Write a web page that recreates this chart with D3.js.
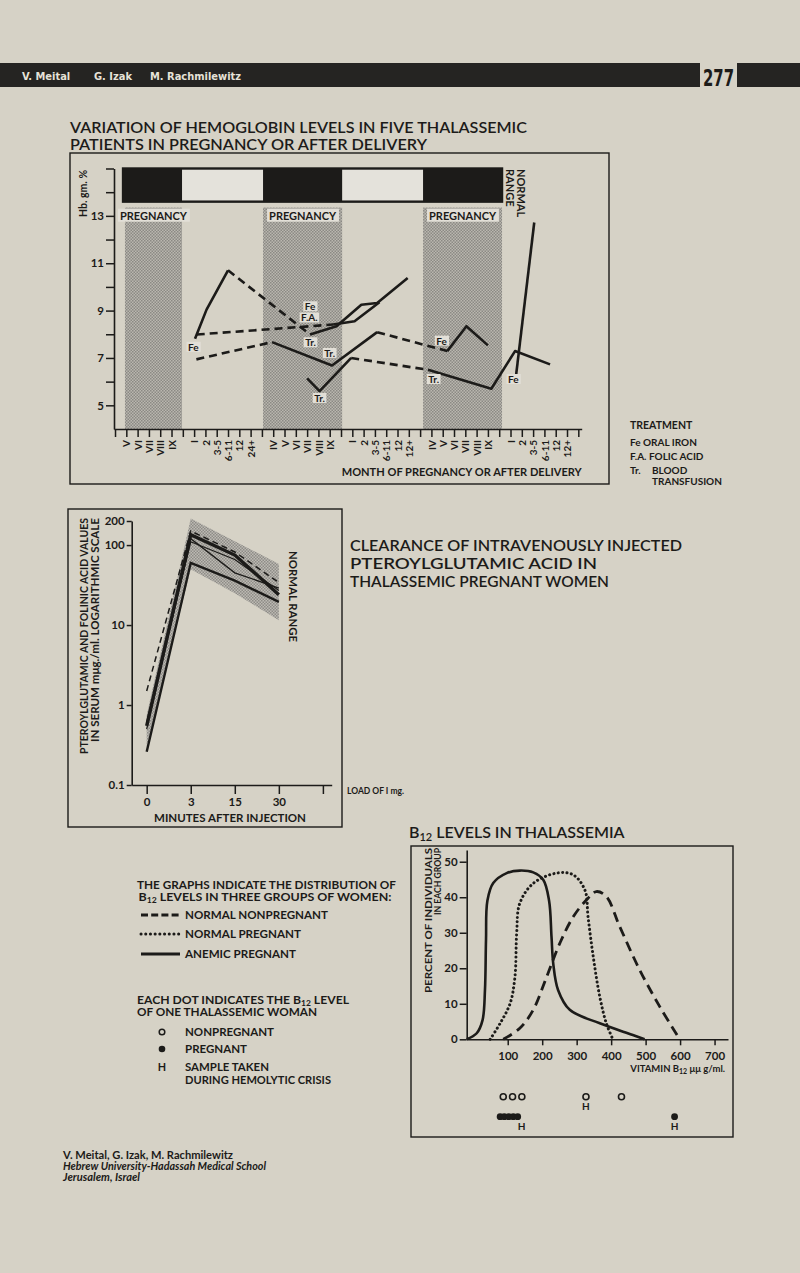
<!DOCTYPE html>
<html><head><meta charset="utf-8">
<script src="https://cdn.jsdelivr.net/npm/d3@7/dist/d3.min.js"></script>
<style>
html,body{margin:0;padding:0;background:#d6d2c6;}
svg{display:block;}
text{font-family:Lato,"Open Sans","DejaVu Sans",sans-serif;fill:#1c1b19;}
</style></head><body>
<svg id="page" width="800" height="1273"></svg>
<script>
// ================= DATA =================
// --- Chart 1: haemoglobin in five thalassemic patients
const monthTickLabels = ["", "V","VI","VII","VIII","IX", "", "I","2","3-5","6-11","12","24+", "",
  "IV","V","VI","VII","VIII","IX", "", "I","2","3-5","6-11","12","12+", "",
  "IV","V","VI","VII","VIII","IX", "", "I","2","3-5","6-11","12","12+", ""];
const hbValueTicks = [5,6,7,8,9,10,11,12,13,14,15];
const hbLabelTicks = [5,7,9,11,13];
const pregnancySpans = [[0.88,5.93],[13.1,20.1],[27.26,34.25]];   // month-slot units
const normalHbRange = [13.6,15];
const patientA = [
  {dashed:false, pts:[[7.08,7.81],[8.1,9.04],[10.0,10.7]]},
  {dashed:true,  pts:[[10.0,10.7],[17.26,7.99]]},
  {dashed:false, pts:[[17.26,7.99],[19.6,8.34],[21.8,9.25],[23.2,9.32],[25.9,10.38]]}
];
const patientB = [
  {dashed:true,  pts:[[7.23,7.99],[19.3,8.41]]},
  {dashed:false, pts:[[19.3,8.41],[21.2,8.55],[23.4,9.35]]}
];
const patientC = [
  {dashed:true,  pts:[[7.2,6.94],[13.9,7.67]]},
  {dashed:false, pts:[[13.9,7.67],[19.2,6.68],[23.2,8.09]]},
  {dashed:true,  pts:[[23.2,8.09],[29.4,7.29]]},
  {dashed:false, pts:[[29.4,7.29],[31.1,8.34],[33.0,7.53]]}
];
const patientD = [
  {dashed:false, pts:[[17.0,6.14],[18.1,5.6],[20.9,7.0]]},
  {dashed:true,  pts:[[20.9,7.0],[27.7,6.5]]},
  {dashed:false, pts:[[27.7,6.5],[33.3,5.7],[35.4,7.29],[38.5,6.73]]}
];
const patientE = [
  {dashed:false, pts:[[35.5,6.3],[37.1,12.72]]}
];
const treatmentMarks = [
  {s:6.93, hb:7.45, t:"Fe"}, {s:17.26, hb:9.16, t:"Fe"}, {s:17.2, hb:8.69, t:"F.A."},
  {s:17.3, hb:7.64, t:"Tr."}, {s:19.0, hb:7.19, t:"Tr."}, {s:18.1, hb:5.29, t:"Tr."},
  {s:28.9, hb:7.71, t:"Fe"}, {s:28.2, hb:6.09, t:"Tr."}, {s:35.25, hb:6.09, t:"Fe"}
];
const treatmentLegend = [["Fe","ORAL IRON"],["F.A.","FOLIC ACID"],["Tr.","BLOOD","TRANSFUSION"]];

// --- Chart 2: clearance of pteroylglutamic acid (log scale)
const minuteCategories = ["0","3","15","30",""];
const logTicks = [0.1,1,10,100,200];
const clearanceSeries = [
  {kind:"thick",  values:[0.55,135,75,24]},
  {kind:"medium", values:[0.26,60,36,19.5]},
  {kind:"dashed", values:[1.5,150,82,34]},
  {kind:"thin",   values:[0.5,120,45,29]},
  {kind:"thin",   values:[0.6,110,66,27]}
];
const normalBandLow  = [0.3,50,25,11.5];
const normalBandHigh = [0.75,215,112,58];

// --- Chart 3: B12 distributions
const b12Ticks = [100,200,300,400,500,600,700];
const pctTicks = [0,10,20,30,40,50];
const normalNonpregnant = [[87,0],[135,3.1],[174,8.3],[213,17.6],[251,27],[290,34.5],[328,39.2],[357,41.6],[386,40.2],[425,31.7],[483,19.5],[541,9.2],[599,0]];
const normalPregnant = [[49,0],[78,4.5],[107,10.1],[121,17.6],[126,29.9],[135,38.3],[174,43.9],[242,46.8],[290,46.3],[324,42],[333,34.5],[348,23.3],[367,12],[386,4.5],[405,0]];
const anemicPregnant = [[-19,0],[10,1.7],[27,5.4],[34,13.9],[37,28],[41,39],[58,44],[97,46.8],[135,47.5],[174,47],[203,44.9],[220,39],[227,28.9],[232,21.4],[246,13.9],[280,8.3],[367,4.5],[463,1.2],[497,0]];
const dotsNonpregnant = [87,114,141,327,430];
const dotsPregnant = [78,90,103,116,129,584];
const hemolyticNonpregnant = [327];
const hemolyticPregnant = [140,584];

// ================= DRAWING =================
const ink = "#1c1b19", paper = "#d6d2c6", light = "#e2dfd7";
const svg = d3.select("#page");
svg.append("rect").attr("width",800).attr("height",1273).attr("fill",paper);
const defs = svg.append("defs");
function stipple(id, base, dot){
  const p = defs.append("pattern").attr("id",id).attr("width",3).attr("height",3).attr("patternUnits","userSpaceOnUse");
  p.append("rect").attr("width",3).attr("height",3).attr("fill",base);
  p.append("rect").attr("width",1.5).attr("height",1.5).attr("fill",dot);
  p.append("rect").attr("x",1.5).attr("y",1.5).attr("width",1.5).attr("height",1.5).attr("fill",dot);
}
stipple("stipA","#bab7af","#8b8984");
stipple("stipB","#bdbab3","#8e8c87");

function label(g, x, y, s, o={}){
  const t = g.append("text").attr("x",x).attr("y",y).text(s)
    .attr("font-size", o.size||10).attr("font-weight", o.weight||700);
  if (o.anchor) t.attr("text-anchor", o.anchor);
  if (o.len) t.attr("textLength", o.len).attr("lengthAdjust","spacingAndGlyphs");
  if (o.italic) t.attr("font-style","italic");
  if (o.fill) t.style("fill", o.fill);
  if (o.family) t.style("font-family", o.family);
  if (o.transform) t.attr("transform", o.transform);
  return t;
}
function styleAxis(sel, fs){
  sel.attr("font-family",null);
  sel.select(".domain").attr("stroke",ink).attr("stroke-width",1.6);
  sel.selectAll(".tick line").attr("stroke",ink).attr("stroke-width",1.5);
  sel.selectAll(".tick text").style("fill",ink).attr("font-size",fs).attr("font-weight",700);
}

// ---- running header
const condensed = "'Liberation Sans Narrow','DejaVu Sans Condensed',sans-serif";
svg.append("rect").attr("x",0).attr("y",63).attr("width",700).attr("height",24).attr("fill","#252422");
svg.append("rect").attr("x",737).attr("y",63).attr("width",63).attr("height",24).attr("fill","#252422");
label(svg, 22, 80, "V. Meital", {size:11, fill:"#e6e2d8", family:condensed});
label(svg, 94, 80, "G. Izak", {size:11, fill:"#e6e2d8", family:condensed});
label(svg, 150, 80, "M. Rachmilewitz", {size:11, fill:"#e6e2d8", family:condensed});
label(svg, 703, 86, "277", {size:23, family:condensed, len:31});

// ---- Chart 1
const g1 = svg.append("g");
label(g1, 70, 133, "VARIATION OF HEMOGLOBIN LEVELS IN FIVE THALASSEMIC", {size:15, weight:600, len:457});
label(g1, 70, 150, "PATIENTS IN PREGNANCY OR AFTER DELIVERY", {size:15, weight:600, len:357});
g1.append("rect").attr("x",70).attr("y",153).attr("width",539).attr("height",331)
  .attr("fill","none").attr("stroke",ink).attr("stroke-width",1.4);

const xHb = d3.scaleLinear().domain([-0.09, 41.3]).range([114, 581.7]);
const yHb = d3.scaleLinear().domain([4, 15]).range([429, 168.5]);

g1.selectAll("rect.preg").data(pregnancySpans).join("rect").attr("class","preg")
  .attr("x",d=>xHb(d[0])).attr("width",d=>xHb(d[1])-xHb(d[0]))
  .attr("y",yHb(13.35)).attr("height",yHb(4)-yHb(13.35)).attr("fill","url(#stipA)");

const nrx0 = xHb(pregnancySpans[0][0]-0.17), nrx1 = xHb(pregnancySpans[2][1]);
g1.append("rect").attr("x",nrx0).attr("y",yHb(normalHbRange[1])).attr("width",nrx1-nrx0)
  .attr("height",yHb(normalHbRange[0])-yHb(normalHbRange[1])).attr("fill","#e4e2db")
  .attr("stroke",ink).attr("stroke-width",2.4);
g1.selectAll("rect.nrb").data(pregnancySpans).join("rect").attr("class","nrb")
  .attr("x",(d,i)=>xHb(i===0?d[0]-0.17:d[0])).attr("width",(d,i)=>xHb(d[1])-xHb(i===0?d[0]-0.17:d[0]))
  .attr("y",yHb(normalHbRange[1])).attr("height",yHb(normalHbRange[0])-yHb(normalHbRange[1])).attr("fill",ink);

pregnancySpans.forEach(d=>{
  const cx = xHb((d[0]+d[1])/2);
  const t = label(g1, cx, yHb(13.0), "PREGNANCY", {size:11, anchor:"middle"}).attr("dy","0.35em");
  const bb = t.node().getBBox();
  g1.insert("rect", ()=>t.node()).attr("x",bb.x-2).attr("y",bb.y).attr("width",bb.width+4).attr("height",bb.height).attr("fill",light);
});
label(g1, 0, 0, "NORMAL", {size:11, transform:`translate(517,169) rotate(90)`});
label(g1, 0, 0, "RANGE", {size:11, transform:`translate(505.5,169) rotate(90)`});

const yAx1 = g1.append("g").attr("transform",`translate(${xHb(-0.09)},0)`)
  .call(d3.axisLeft(yHb).tickValues(hbValueTicks).tickSize(8).tickSizeOuter(0).tickPadding(2)
    .tickFormat(d=>hbLabelTicks.includes(d)?d:""));
styleAxis(yAx1, 11.5);
const xAx1 = g1.append("g").attr("transform",`translate(0,${yHb(4)})`)
  .call(d3.axisBottom(xHb).tickValues(d3.range(monthTickLabels.length)).tickSize(8).tickSizeOuter(0)
    .tickFormat(i=>monthTickLabels[i]));
styleAxis(xAx1, 10);
xAx1.selectAll(".tick text").attr("y",0).attr("x",-11).attr("dy","0.36em")
  .attr("text-anchor","end").attr("transform","rotate(-90)");
label(g1, 0, 0, "Hb. gm. %", {size:10.5, anchor:"end", transform:"translate(87,170) rotate(-90)"});
label(g1, 581.7, 475.5, "MONTH OF PREGNANCY OR AFTER DELIVERY", {size:10.5, anchor:"end", len:240});

const hbLine = d3.line().x(d=>xHb(d[0])).y(d=>yHb(d[1]));
const segs = [patientA, patientB, patientC, patientD, patientE].flat();
g1.selectAll("path.pt").data(segs).join("path").attr("class","pt")
  .attr("d",d=>hbLine(d.pts)).attr("fill","none").attr("stroke",ink)
  .attr("stroke-width",2.6).attr("stroke-linejoin","round")
  .attr("stroke-dasharray",d=>d.dashed?"8,5":null);
treatmentMarks.forEach(m=>{
  const t = label(g1, xHb(m.s), yHb(m.hb), m.t, {size:10, anchor:"middle"}).attr("dy","0.35em");
  const bb = t.node().getBBox();
  g1.insert("rect", ()=>t.node()).attr("x",bb.x-1.5).attr("y",bb.y+1).attr("width",bb.width+3).attr("height",bb.height-2).attr("fill",light);
});
label(svg, 630, 429, "TREATMENT", {size:10.5});
treatmentLegend.forEach((r,i)=>{
  const y = 446 + i*14;
  label(svg, 630, y, r[0], {size:10});
  label(svg, [643,649,652][i], y, r[1], {size:10});
  if (r[2]) label(svg, 652, y+11, r[2], {size:10});
});

// ---- Chart 2
const g2 = svg.append("g");
g2.append("rect").attr("x",68).attr("y",509).attr("width",274).attr("height",318)
  .attr("fill","none").attr("stroke",ink).attr("stroke-width",1.4);
const xMin = d3.scalePoint().domain(minuteCategories).range([131.7,331.7]).padding(0.27).align(0.63);
const yLog = d3.scaleLog().domain([0.1,200]).range([785,521]);
const band = d3.area().x((v,i)=>xMin(minuteCategories[i])).y0((v,i)=>yLog(normalBandLow[i])).y1((v,i)=>yLog(normalBandHigh[i]));
g2.append("path").attr("d",band(normalBandLow)).attr("fill","url(#stipB)");
const clLine = d3.line().x((v,i)=>xMin(minuteCategories[i])).y(v=>yLog(v));
const clStyle = {thick:[3.4,null], medium:[2.4,null], dashed:[1.5,"6,4"], thin:[1.3,null]};
g2.selectAll("path.cl").data(clearanceSeries).join("path").attr("class","cl")
  .attr("d",d=>clLine(d.values)).attr("fill","none").attr("stroke",ink)
  .attr("stroke-width",d=>clStyle[d.kind][0]).attr("stroke-dasharray",d=>clStyle[d.kind][1]);
const yAx2 = g2.append("g").attr("transform","translate(131.7,0)")
  .call(d3.axisLeft(yLog).tickValues(logTicks).tickSize(5).tickSizeOuter(0).tickPadding(2).tickFormat(d=>String(d)));
styleAxis(yAx2, 11.5);
const xAx2 = g2.append("g").attr("transform","translate(0,785)")
  .call(d3.axisBottom(xMin).tickSize(9).tickSizeOuter(0).tickPadding(4));
styleAxis(xAx2, 11.5);
label(g2, 0, 0, "NORMAL RANGE", {size:11, transform:"translate(289,551) rotate(90)", len:91});
label(g2, 0, 0, "PTEROYLGLUTAMIC AND FOLINIC ACID VALUES", {size:10.5, anchor:"end", transform:"translate(88,518) rotate(-90)", len:236});
label(g2, 0, 0, "IN SERUM mμg./ml. LOGARITHMIC SCALE", {size:10.5, anchor:"end", transform:"translate(98.5,518) rotate(-90)", len:224});
label(g2, 230, 822, "MINUTES AFTER INJECTION", {size:10.5, anchor:"middle", len:152});
label(svg, 347, 794, "LOAD OF I mg.", {size:8.5});
label(svg, 350, 551, "CLEARANCE OF INTRAVENOUSLY INJECTED", {size:15, weight:600, len:332});
label(svg, 350, 569, "PTEROYLGLUTAMIC ACID IN", {size:15, weight:600, len:247});
label(svg, 350, 587, "THALASSEMIC PREGNANT WOMEN", {size:15, weight:600, len:259});

// ---- Chart 3
const g3 = svg.append("g");
const tt = g3.append("text").attr("x",409).attr("y",838).attr("font-size",16).attr("font-weight",600);
tt.append("tspan").text("B");
tt.append("tspan").text("12").attr("font-size",11).attr("dy",3);
tt.append("tspan").text(" LEVELS IN THALASSEMIA").attr("dy",-3);
g3.append("rect").attr("x",411).attr("y",846).attr("width",322).attr("height",291)
  .attr("fill","none").attr("stroke",ink).attr("stroke-width",1.4);
const xB = d3.scaleLinear().domain([-19,739]).range([466.7,728]);
const yB = d3.scaleLinear().domain([0,53.3]).range([1039.3,850]);
const bLine = d3.line().curve(d3.curveCatmullRom.alpha(0.5)).x(d=>xB(d[0])).y(d=>yB(d[1]));
g3.append("path").attr("d",bLine(normalNonpregnant)).attr("fill","none").attr("stroke",ink).attr("stroke-width",2.8).attr("stroke-dasharray","10,6");
g3.append("path").attr("d",bLine(normalPregnant)).attr("fill","none").attr("stroke",ink).attr("stroke-width",3).attr("stroke-linecap","round").attr("stroke-dasharray","0.1,4.3");
g3.append("path").attr("d",bLine(anemicPregnant)).attr("fill","none").attr("stroke",ink).attr("stroke-width",2.6);
const yAx3 = g3.append("g").attr("transform",`translate(${xB(-19)},0)`)
  .call(d3.axisLeft(yB).tickValues(pctTicks).tickSize(7).tickSizeOuter(0).tickPadding(2));
styleAxis(yAx3, 11.5);
const xAx3 = g3.append("g").attr("transform",`translate(0,${yB(0)})`)
  .call(d3.axisBottom(xB).tickValues(b12Ticks).tickSize(6).tickSizeOuter(0).tickPadding(7));
styleAxis(xAx3, 11.5);
label(g3, 0, 0, "PERCENT OF INDIVIDUALS", {size:10, anchor:"end", transform:"translate(431.5,848) rotate(-90)", len:145});
label(g3, 0, 0, "IN EACH GROUP", {size:10, anchor:"end", transform:"translate(441,848) rotate(-90)", len:67});
const vt = g3.append("text").attr("x",725).attr("y",1072).attr("text-anchor","end").attr("font-size",9.5).attr("font-weight",700);
vt.append("tspan").text("VITAMIN B");
vt.append("tspan").text("12").attr("font-size",7).attr("dy",2);
vt.append("tspan").text(" μμ g/ml.").attr("dy",-2);
const rowOpen = 1096.7, rowFilled = 1116.7;
g3.selectAll("circle.o").data(dotsNonpregnant).join("circle").attr("class","o")
  .attr("cx",d=>xB(d)).attr("cy",rowOpen).attr("r",3).attr("fill",paper).attr("stroke",ink).attr("stroke-width",1.6);
g3.selectAll("circle.f").data(dotsPregnant).join("circle").attr("class","f")
  .attr("cx",d=>xB(d)).attr("cy",rowFilled).attr("r",3.4).attr("fill",ink);
g3.selectAll("text.ho").data(hemolyticNonpregnant).join("text").attr("class","ho")
  .attr("x",d=>xB(d)).attr("y",1110).attr("text-anchor","middle").attr("font-size",10).attr("font-weight",700).text("H");
g3.selectAll("text.hp").data(hemolyticPregnant).join("text").attr("class","hp")
  .attr("x",d=>xB(d)).attr("y",1129.5).attr("text-anchor","middle").attr("font-size",10).attr("font-weight",700).text("H");

// left legend of chart 3
const lg = svg.append("g");
label(lg, 137, 889, "THE GRAPHS INDICATE THE DISTRIBUTION OF", {size:10.8, len:259});
const l2 = lg.append("text").attr("x",138.5).attr("y",901).attr("font-size",10.8).attr("font-weight",700)
  .attr("textLength",253).attr("lengthAdjust","spacingAndGlyphs");
l2.append("tspan").text("B");
l2.append("tspan").text("12").attr("font-size",7.5).attr("dy",2);
l2.append("tspan").text("  LEVELS IN THREE  GROUPS OF WOMEN:").attr("dy",-2);
const legItems = [
  {y:915, dash:"7,3.2", cap:"butt", w:3, text:"NORMAL NONPREGNANT", len:143},
  {y:934, dash:"0.1,4.6", cap:"round", w:3, text:"NORMAL PREGNANT", len:116},
  {y:954, dash:null, cap:"butt", w:3, text:"ANEMIC PREGNANT", len:111}
];
legItems.forEach(it=>{
  lg.append("line").attr("x1",141).attr("x2",180).attr("y1",it.y).attr("y2",it.y)
    .attr("stroke",ink).attr("stroke-width",it.w).attr("stroke-dasharray",it.dash).attr("stroke-linecap",it.cap);
  label(lg, 185, it.y+4, it.text, {size:10.8, len:it.len});
});
const e1 = lg.append("text").attr("x",137).attr("y",1004).attr("font-size",10.8).attr("font-weight",700)
  .attr("textLength",212).attr("lengthAdjust","spacingAndGlyphs");
e1.append("tspan").text("EACH DOT INDICATES THE B");
e1.append("tspan").text("12").attr("font-size",7.5).attr("dy",2);
e1.append("tspan").text(" LEVEL").attr("dy",-2);
label(lg, 137, 1016, "OF ONE THALASSEMIC WOMAN", {size:10.8, len:180});
lg.append("circle").attr("cx",162).attr("cy",1032).attr("r",2.8).attr("fill",paper).attr("stroke",ink).attr("stroke-width",1.5);
label(lg, 185, 1036, "NONPREGNANT", {size:10.8, len:89});
lg.append("circle").attr("cx",162).attr("cy",1049).attr("r",3.3).attr("fill",ink);
label(lg, 185, 1053, "PREGNANT", {size:10.8, len:62});
label(lg, 162, 1071, "H", {size:10.8, anchor:"middle"});
label(lg, 185, 1071, "SAMPLE TAKEN", {size:10.8, len:84});
label(lg, 185, 1084, "DURING HEMOLYTIC CRISIS", {size:10.8, len:146});

// footer
label(svg, 63, 1159, "V. Meital, G. Izak, M. Rachmilewitz", {size:10.5, len:170});
label(svg, 63, 1170, "Hebrew University-Hadassah Medical School", {size:10.5, italic:true, len:203});
label(svg, 63, 1181, "Jerusalem, Israel", {size:10.5, italic:true, len:77});
</script>
</body></html>
